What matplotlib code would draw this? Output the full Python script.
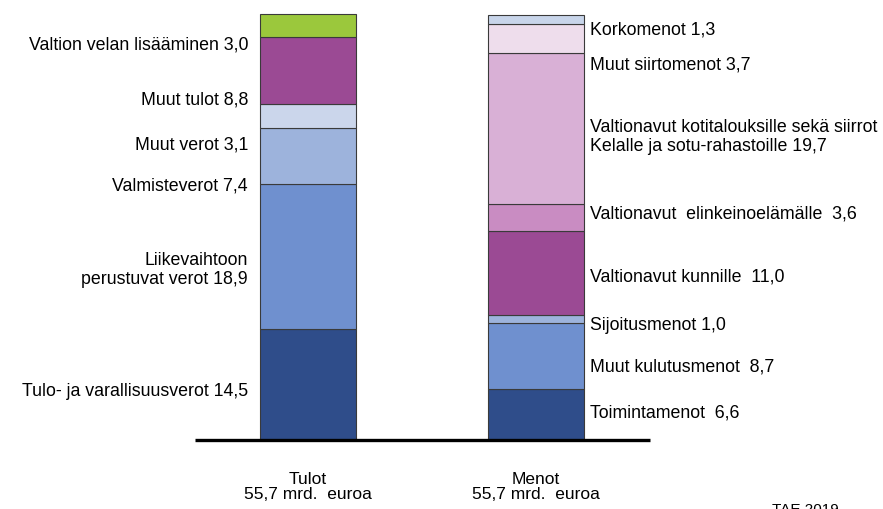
import numpy as np
import matplotlib.pyplot as plt

plt.rcParams['font.family'] = ['Liberation Sans', 'DejaVu Sans']

# Tulot (bottom -> top)
tulot_labels = ["Tulo- ja varallisuusverot 14,5",
                "Liikevaihtoon\nperustuvat verot 18,9",
                "Valmisteverot 7,4",
                "Muut verot 3,1",
                "Muut tulot 8,8",
                "Valtion velan lisääminen 3,0"]
tulot_values = [14.5, 18.9, 7.4, 3.1, 8.8, 3.0]
tulot_colors = ["#2f4d8a", "#6f90cf", "#9db3dc", "#cbd6eb", "#9b4a94", "#9bc83c"]

# Menot (bottom -> top)
menot_labels = ["Toimintamenot  6,6",
                "Muut kulutusmenot  8,7",
                "Sijoitusmenot 1,0",
                "Valtionavut kunnille  11,0",
                "Valtionavut  elinkeinoelämälle  3,6",
                "Valtionavut kotitalouksille sekä siirrot\nKelalle ja sotu-rahastoille 19,7",
                "Muut siirtomenot 3,7",
                "Korkomenot 1,3"]
menot_values = [6.6, 8.7, 1.0, 11.0, 3.6, 19.7, 3.7, 1.3]
menot_colors = ["#2f4d8a", "#6f90cf", "#9db3dc", "#9b4a94", "#c98cc2", "#d9b0d6", "#eeddec", "#c8d5ea"]

categories = ["Tulot\n55,7 mrd.  euroa", "Menot\n55,7 mrd.  euroa"]

# label positions (data units)
tulot_label_y = [6.3, 22.2, 33.2, 38.6, 44.4, 51.6]
menot_label_y = [3.5, 9.5, 14.9, 21.3, 29.5, 39.6, 49.0, 53.6]

fig = plt.figure(figsize=(8.83, 5.09), dpi=100)
ax = fig.add_axes([0, 0, 1, 1])
ax.set_xlim(-1.351, 2.522)
ax.set_ylim(-9.02, 57.5)
ax.axis('off')

width = 0.421
bottom = 0
for v, c in zip(tulot_values, tulot_colors):
    ax.bar(0, v, width, bottom=bottom, color=c, edgecolor="#3a3a3a", linewidth=0.8)
    bottom += v
bottom = 0
for v, c in zip(menot_values, menot_colors):
    ax.bar(1, v, width, bottom=bottom, color=c, edgecolor="#3a3a3a", linewidth=0.8)
    bottom += v

fs = 12.8
for lab, y in zip(tulot_labels, tulot_label_y):
    ax.text(-0.263, y, lab, ha='right', va='center', fontsize=fs,
            multialignment='right', linespacing=1.15)
for lab, y in zip(menot_labels, menot_label_y):
    ax.text(1.237, y, lab, ha='left', va='center', fontsize=fs,
            multialignment='left', linespacing=1.15)

ax.plot([-0.496, 1.5], [0, 0], color='black', lw=2.4, solid_capstyle='butt')

for i, cat in enumerate(categories):
    ax.text(i, -6.1, cat, ha='center', va='center', fontsize=12.5, linespacing=1.0)

fig.text(0.912, 1 - 503 / 509, "TAE 2019", ha='center', va='top', fontsize=11)

fig.savefig("out.png", dpi=100)
